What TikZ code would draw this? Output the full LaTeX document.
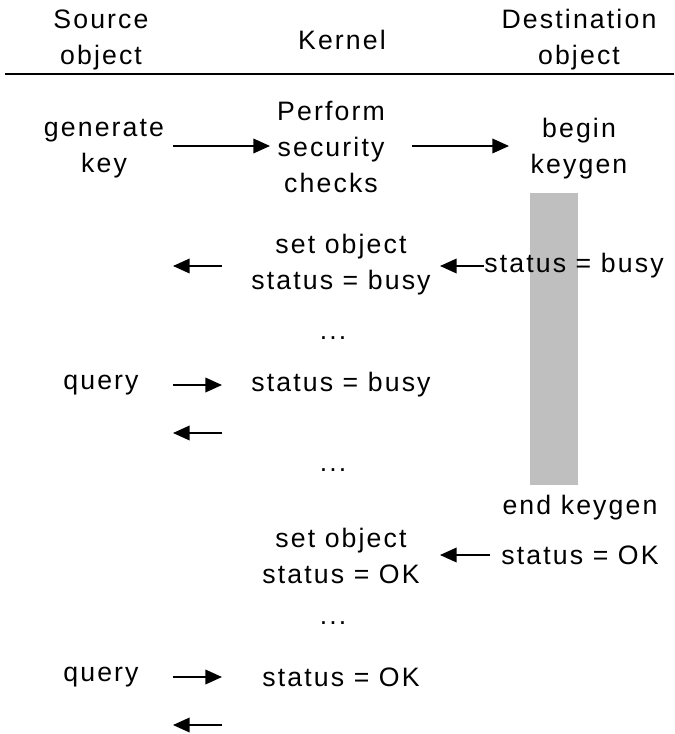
\documentclass[tikz,border=0pt]{standalone}
\usepackage{fontspec}
\setmainfont{Liberation Sans}[LetterSpace=8]
\usetikzlibrary{arrows.meta}

\tikzset{
  lbl/.style={align=center, inner sep=0pt, font=\fontsize{20}{27}\selectfont},
  msg/.style={-{Triangle[length=12.5pt,width=11pt]}, line width=1.2pt},
}

\begin{document}
\begin{tikzpicture}[x=0.75pt, y=-0.75pt]
\useasboundingbox (0,0) rectangle (674,734);
% column heads
\node[lbl] (src) at (101,40) {Source\\object};
\node[lbl] (krn) at (342,40) {Kernel};
\node[lbl] (dst) at (579,40) {Destination\\object};
\coordinate (ruleL) at (5,74);
\coordinate (ruleR) at (674,74);
\draw[line width=1.2pt] (ruleL) -- (ruleR);
% busy period of the destination object
\fill[black!25] (530,193) rectangle (578,485);
% keygen request
\node[lbl] (gen) at (104,149) {generate\\key};
\node[lbl] (chk) at (331,147) {Perform\\security\\checks};
\node[lbl] (beg) at (579,149) {begin\\keygen};
\coordinate (a1s) at (173,146);
\coordinate (a1e) at (270,146);
\coordinate (a2s) at (412,146);
\coordinate (a2e) at (509,146);
\draw[msg] (a1s) -- (a1e);
\draw[msg] (a2s) -- (a2e);
% busy
\node[lbl] (setbusy) at (341,265) {set object\\status = busy};
\node[lbl] (dbusy) at (574,266) {status = busy};
\coordinate (b1s) at (222,266);
\coordinate (b1e) at (173,266);
\coordinate (b2e) at (440,266);
\draw[msg] (dbusy.west) -- (b2e);
\draw[msg] (b1s) -- (b1e);
\node[lbl] (dots1) at (333,338) {...};
% first query
\node[lbl] (q1) at (101,385) {query};
\node[lbl] (qbusy) at (341,385) {status = busy};
\coordinate (q1s) at (173,385);
\coordinate (q1e) at (222,385);
\coordinate (r1s) at (222,433);
\coordinate (r1e) at (173,433);
\draw[msg] (q1s) -- (q1e);
\draw[msg] (r1s) -- (r1e);
\node[lbl] (dots2) at (333,470) {...};
% keygen done
\node[lbl] (endk) at (580,508) {end keygen};
\node[lbl] (setok) at (341,556) {set object\\status = OK};
\node[lbl] (dok) at (580,555) {status = OK};
\coordinate (k1s) at (490,555);
\coordinate (k1e) at (440,555);
\draw[msg] (k1s) -- (k1e);
\node[lbl] (dots3) at (333,623) {...};
% second query
\node[lbl] (q2) at (101,677) {query};
\node[lbl] (qok) at (341,677) {status = OK};
\coordinate (q2s) at (173,677);
\coordinate (q2e) at (222,677);
\coordinate (r2s) at (222,725);
\coordinate (r2e) at (173,725);
\draw[msg] (q2s) -- (q2e);
\draw[msg] (r2s) -- (r2e);
\end{tikzpicture}
\end{document}
